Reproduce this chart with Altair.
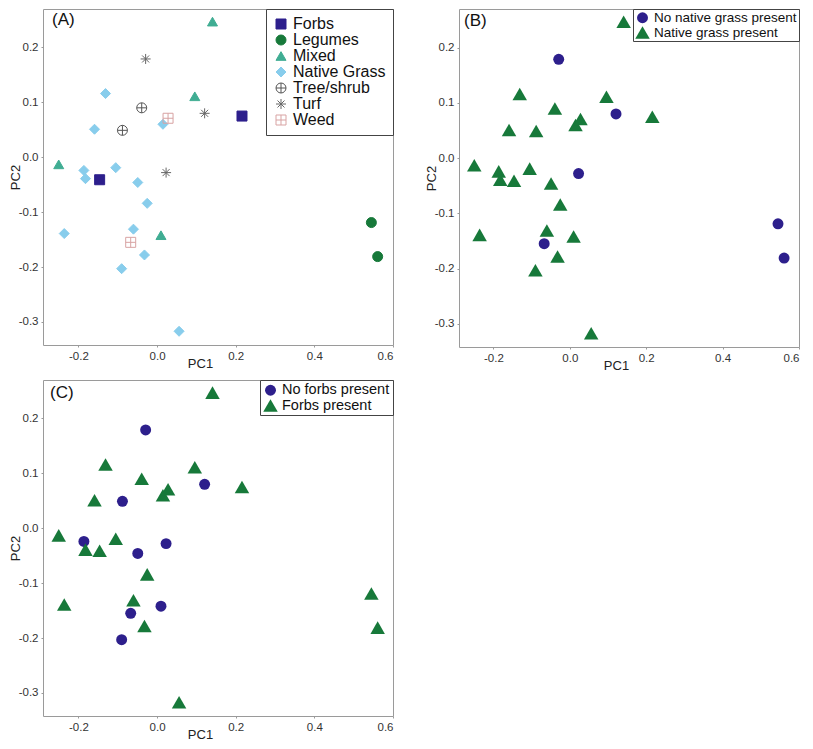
import altair as alt
import pandas as pd

# ---- data ----
pc1 = [0.216, -0.146, 0.545, 0.561, 0.141, 0.096, -0.250, 0.010,
       -0.131, -0.159, 0.015, -0.186, -0.182, -0.105, -0.049, -0.025,
       -0.060, -0.236, -0.032, -0.090, 0.056,
       -0.039, -0.088, -0.029, 0.121, 0.023, 0.028, -0.067]
pc2 = [0.075, -0.041, -0.119, -0.181, 0.247, 0.111, -0.013, -0.142,
       0.116, 0.051, 0.060, -0.024, -0.039, -0.019, -0.046, -0.084,
       -0.131, -0.139, -0.178, -0.203, -0.317,
       0.090, 0.049, 0.179, 0.080, -0.028, 0.071, -0.155]
group = ["Forbs", "Forbs", "Legumes", "Legumes", "Mixed", "Mixed", "Mixed", "Mixed",
         "Native Grass", "Native Grass", "Native Grass", "Native Grass", "Native Grass",
         "Native Grass", "Native Grass", "Native Grass", "Native Grass", "Native Grass",
         "Native Grass", "Native Grass", "Native Grass",
         "Tree/shrub", "Tree/shrub", "Turf", "Turf", "Turf", "Weed", "Weed"]
NG0, NG1 = "No native grass present", "Native grass present"
native_grass = [NG1, NG1, NG0, NG0, NG1, NG1, NG1, NG1,
                NG1, NG1, NG1, NG1, NG1, NG1, NG1, NG1, NG1, NG1, NG1, NG1, NG1,
                NG1, NG1, NG0, NG0, NG0, NG1, NG0]
F0, F1 = "No forbs present", "Forbs present"
forbs = [F1, F1, F1, F1, F1, F1, F1, F0,
         F1, F1, F1, F0, F1, F1, F0, F1, F1, F1, F1, F0, F1,
         F1, F0, F0, F0, F0, F1, F0]

groups = ["Forbs", "Legumes", "Mixed", "Native Grass", "Tree/shrub", "Turf", "Weed"]
x_ticks = [-0.2, 0.0, 0.2, 0.4, 0.6]
y_ticks = [-0.3, -0.2, -0.1, 0.0, 0.1, 0.2]

df = pd.DataFrame({"pc1": pc1, "pc2": pc2, "group": group, "ng": native_grass, "fb": forbs})

# ---- styles ----
NAVY = "#2d1f8c"
GREEN = "#17793a"
CIRCLE_PLUS = "M-1,0A1,1,0,1,1,1,0A1,1,0,1,1,-1,0ZM-1,0L1,0M0,-1L0,1"
ASTERISK = "M-1,0L1,0M0,-1L0,1M-0.7,-0.7L0.7,0.7M-0.7,0.7L0.7,-0.7"
SQUARE_PLUS = "M-1,-1L1,-1L1,1L-1,1ZM-1,0L1,0M0,-1L0,1"
group_fill = [NAVY, GREEN, "#40ad93", "#88cdec", "transparent", "transparent", "transparent"]
group_stroke = [NAVY, GREEN, "#40ad93", "#88cdec", "#555555", "#666666", "#d8a3a3"]
group_shape = ["square", "circle", "triangle-up", "diamond", CIRCLE_PLUS, ASTERISK, SQUARE_PLUS]
group_size = [100, 100, 170, 130, 100, 150, 120]

MINUS = "replace(format(datum.value, '.1f'), '\u2212', '-')"
XS = alt.Scale(domain=[-0.29, 0.6], nice=False, zero=False)
YS = alt.Scale(domain=[-0.342, 0.27], nice=False, zero=False)


def xaxis():
    return alt.Axis(values=x_ticks, labelExpr=MINUS, title="PC1", titleX=157, titleY=18,
                    titleBaseline="middle", titleAlign="center")


def yaxis():
    return alt.Axis(values=y_ticks, labelExpr=MINUS, title="PC2", titlePadding=-4)


def panel_label(txt, dx, dy):
    return alt.Chart(pd.DataFrame({"t": [txt]})).mark_text(
        align="left", baseline="middle", fontSize=17, color="#111"
    ).encode(text="t:N", x=alt.value(dx), y=alt.value(dy))


# Panel A
legA = alt.Legend(title=None, orient="top-right", offset=0, strokeColor="#444",
                  fillColor="white", padding=7, labelFontSize=16, symbolSize=185,
                  rowPadding=0, labelOffset=4, symbolStrokeWidth=1, labelColor="#111",
                  labelLimit=300)
ptsA = alt.Chart(df).mark_point(opacity=1, strokeWidth=1).encode(
    x=alt.X("pc1:Q", scale=XS, axis=xaxis()),
    y=alt.Y("pc2:Q", scale=YS, axis=yaxis()),
    color=alt.Color("group:N", scale=alt.Scale(domain=groups, range=group_stroke), legend=legA),
    fill=alt.Fill("group:N", scale=alt.Scale(domain=groups, range=group_fill), legend=legA),
    shape=alt.Shape("group:N", scale=alt.Scale(domain=groups, range=group_shape), legend=legA),
    size=alt.Size("group:N", scale=alt.Scale(domain=groups, range=group_size), legend=None),
)
A = alt.layer(ptsA, panel_label("(A)", 9, 11)).properties(width=350, height=336)


def binary_panel(field, dom, lab, w, h, fs, pad, lx, ly):
    leg = alt.Legend(title=None, orient="top-right", offset=0, strokeColor="#444",
                     fillColor="white", padding=pad, labelFontSize=fs, symbolSize=160,
                     rowPadding=0, labelOffset=4, symbolStrokeWidth=0, labelColor="#111",
                     labelLimit=300)
    pts = alt.Chart(df).mark_point(opacity=1, filled=True).encode(
        x=alt.X("pc1:Q", scale=XS, axis=xaxis()),
        y=alt.Y("pc2:Q", scale=YS, axis=yaxis()),
        color=alt.Color(f"{field}:N", scale=alt.Scale(domain=dom, range=[NAVY, GREEN]), legend=leg),
        shape=alt.Shape(f"{field}:N", scale=alt.Scale(domain=dom, range=["circle", "triangle-up"]), legend=leg),
        size=alt.Size(f"{field}:N", scale=alt.Scale(domain=dom, range=[120, 210]), legend=None),
    )
    return alt.layer(pts, panel_label(lab, lx, ly)).properties(width=w, height=h)


B = binary_panel("ng", [NG0, NG1], "(B)", 340, 338, 13.5, 2, 5, 12)
C = binary_panel("fb", [F0, F1], "(C)", 350, 336, 14.5, 3, 7, 13)

chart = alt.concat(
    A, B, C, columns=2, spacing={"row": 6, "column": 30}
).resolve_scale(
    color="independent", fill="independent", shape="independent", size="independent"
).properties(padding=0).configure(
    font="Liberation Sans"
).configure_view(
    stroke="#9a9a9a", strokeWidth=1
).configure_axis(
    domain=False, grid=False, tickSize=2, tickColor="#9a9a9a", labelPadding=3,
    labelFontSize=11.5, labelColor="#333", titleFontSize=13, titleFontWeight="normal",
    titleColor="#222"
)

chart.save("out.html", embed_options={"renderer": "svg", "actions": False})
